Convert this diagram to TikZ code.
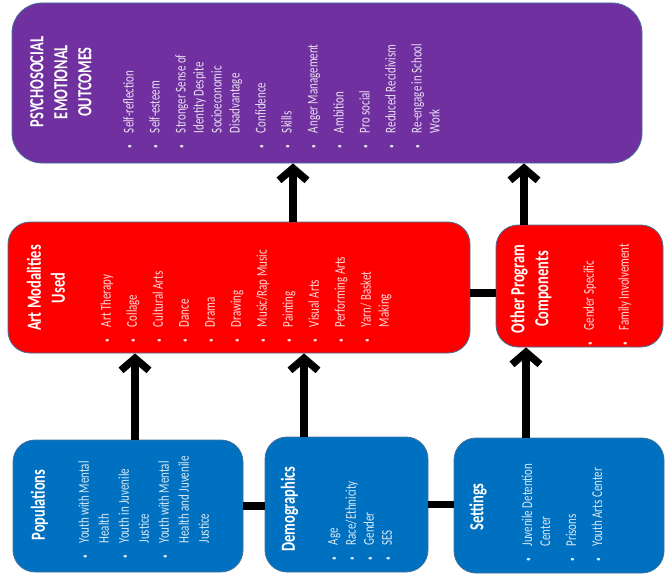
\documentclass[tikz,border=0pt]{standalone}
\usepackage{fontspec}
\setmainfont{Carlito}
\usepackage{tikz}
\usetikzlibrary{arrows.meta}

\definecolor{outpurple}{HTML}{7030A0}
\definecolor{artred}{HTML}{FF0000}
\definecolor{baseblue}{HTML}{0070C0}
\definecolor{edgeblue}{HTML}{41719C}

% small list bullet in a fixed-width box
\newcommand{\bul}{\makebox[5pt]{\fontsize{10}{10}\selectfont\raisebox{0.8pt}{\textbullet}}}

\begin{document}
\begin{tikzpicture}[x=1pt, y=-1pt,
  box/.style={draw=edgeblue, line width=0.8pt, rounded corners=22pt, inner sep=0pt},
  head/.style={rotate=90, xscale=0.72, text=white, font=\bfseries\fontsize{20}{24}\selectfont, align=center, inner sep=0pt},
  items/.style={rotate=90, xscale=0.73, anchor=north west, text=white, text opacity=0.85, font=\fontsize{15}{18}\selectfont, inner sep=0pt},
  arr/.style={line width=7.5pt, -{Straight Barb[length=12pt, width=28pt]}},
  link/.style={line width=7.5pt}]
  \useasboundingbox (0,0) rectangle (665,578);

  % boxes
  \node[box, fill=outpurple, rounded corners=30pt, minimum width=630pt, minimum height=160pt] (outcomes) at (327,83) {};
  \node[box, fill=artred, minimum width=462pt, minimum height=131pt] (arts) at (239,287.5) {};
  \node[box, fill=artred, minimum width=167pt, minimum height=122pt] (other) at (579.5,286) {};
  \node[box, fill=baseblue, minimum width=230pt, minimum height=132pt] (pop) at (128,506) {};
  \node[box, fill=baseblue, minimum width=163pt, minimum height=135pt] (demo) at (346.5,504.5) {};
  \node[box, fill=baseblue, minimum width=210pt, minimum height=135pt] (settings) at (559,505.5) {};

  % titles
  \node[head] (outtitle) at (61,82) {PSYCHOSOCIAL\\EMOTIONAL\\OUTCOMES};
  \node[head] (arttitle) at (46,288) {Art Modalities\\Used};
  \node[head] (othertitle) at (531,289) {Other Program\\Components};
  \node[head] (poptitle) at (39.5,505) {Populations};
  \node[head] (demotitle) at (289.5,509) {Demographics};
  \node[head] (settitle) at (478,507) {Settings};

  % item lists
  \node[items] (outlist) at (120.7,148.5) {\begin{tabular}{@{}l@{\hspace{16pt}}l@{}}
    \bul & Self-reflection\\[8pt]
    \bul & Self-esteem\\[8pt]
    \bul & Stronger Sense of\\
         & Identity Despite\\
         & Socioeconomic\\
         & Disadvantage\\[8pt]
    \bul & Confidence\\[8pt]
    \bul & Skills\\[8pt]
    \bul & Anger Management\\[8pt]
    \bul & Ambition\\[8pt]
    \bul & Pro social\\[8pt]
    \bul & Reduced Recidivism\\[8pt]
    \bul & Re-engage in School\\
         & Work
  \end{tabular}};
  \node[items] (artlist) at (98,342.5) {\begin{tabular}{@{}l@{\hspace{16pt}}l@{}}
    \bul & Art Therapy\\[8pt]
    \bul & Collage\\[8pt]
    \bul & Cultural Arts\\[8pt]
    \bul & Dance\\[8pt]
    \bul & Drama\\[8pt]
    \bul & Drawing\\[8pt]
    \bul & Music/Rap Music\\[8pt]
    \bul & Painting\\[8pt]
    \bul & Visual Arts\\[8pt]
    \bul & Performing Arts\\[8pt]
    \bul & Yarn/ Basket\\
         & Making
  \end{tabular}};
  \node[items] (otherlist) at (581,345.8) {\begin{tabular}{@{}l@{\hspace{16pt}}l@{}}
    \bul & Gender Specific\\[17pt]
    \bul & Family Involvement
  \end{tabular}};
  \node[items] (poplist) at (76,558.8) {\begin{tabular}{@{}l@{\hspace{16pt}}l@{}}
    \bul & Youth with Mental\\[2pt]
         & Health\\[2pt]
    \bul & Youth in Juvenile\\[2pt]
         & Justice\\[2pt]
    \bul & Youth with Mental\\[2pt]
         & Health and Juvenile\\[2pt]
         & Justice
  \end{tabular}};
  \node[items] (demolist) at (325,560.8) {\begin{tabular}{@{}l@{\hspace{16pt}}l@{}}
    \bul & Age\\
    \bul & Race/Ethnicity\\
    \bul & Gender\\
    \bul & SES
  \end{tabular}};
  \node[items] (setlist) at (519.4,561.8) {\begin{tabular}{@{}l@{\hspace{16pt}}l@{}}
    \bul & Juvenile Detention\\
         & Center\\[8pt]
    \bul & Prisons\\[8pt]
    \bul & Youth Arts Center
  \end{tabular}};

  % arrows and links
  \coordinate (popout) at ([xshift=7pt]pop.north);
  \coordinate (demoout) at ([xshift=-42.5pt]demo.north);
  \coordinate (setout) at ([xshift=-33pt]settings.north);
  \coordinate (artsout) at ([xshift=54pt]arts.north);
  \coordinate (otherout) at ([xshift=-55.5pt]other.north);
  \coordinate (artslink) at ([yshift=-5.5pt]arts.east);
  \draw[arr] (popout) -- (popout |- arts.south);
  \draw[arr] (demoout) -- (demoout |- arts.south);
  \draw[arr] (setout) -- (setout |- other.south);
  \draw[arr] (artsout) -- (artsout |- outcomes.south);
  \draw[arr] (otherout) -- (otherout |- outcomes.south);
  \draw[link] (pop.east) -- (pop.east -| demo.west);
  \draw[link] (demo.east) -- (demo.east -| settings.west);
  \draw[link] (artslink) -- (artslink -| other.west);
\end{tikzpicture}
\end{document}
